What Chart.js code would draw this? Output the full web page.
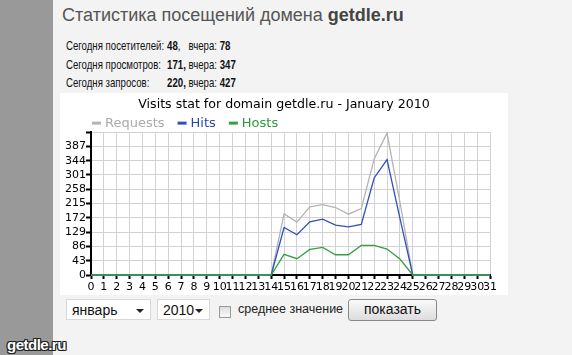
<!DOCTYPE html>
<html>
<head>
<meta charset="utf-8">
<script src="https://cdn.jsdelivr.net/npm/chart.js@4.4.1/dist/chart.umd.min.js"></script>
<style>
  body { margin: 0; width: 572px; height: 355px; overflow: hidden; background: #f3f3f3; position: relative;
         font-family: "Liberation Sans", Arial, sans-serif; }
  #side { position: absolute; left: 0; top: 0; width: 53px; height: 355px; background: #999; }
  h1 { position: absolute; left: 62px; top: 5px; margin: 0; font-size: 18px; font-weight: normal; color: #555; white-space: nowrap; }
  h1 b { color: #444; }
  .row { position: absolute; left: 66px; font-size: 12.2px; color: #111; white-space: nowrap;
         transform: scaleX(0.79); transform-origin: 0 0; }
  .row span { position: absolute; left: 128px; top: 0; }
  #box { position: absolute; left: 60px; top: 93px; width: 448px; height: 202px; background: #fff; }
  .sel { position: absolute; top: 299px; height: 21px; background: #fff; border: 1px solid #d8d8d8; box-sizing: border-box;
         font-size: 14px; line-height: 20px; padding-left: 5px; color: #111; }
  .sel i { position: absolute; right: 6px; top: 9px; border-left: 4px solid transparent; border-right: 4px solid transparent; border-top: 4px solid #222; }
  #chk { position: absolute; left: 219px; top: 306px; width: 12px; height: 12px; box-sizing: border-box; border: 1px solid #999;
         background: linear-gradient(#ddd, #fafafa); }
  #avg { position: absolute; left: 238px; top: 302px; font-size: 12.5px; color: #222; }
  #btn { position: absolute; left: 348px; top: 299px; width: 89px; height: 22px; box-sizing: border-box; border: 1px solid #888;
         border-radius: 3px; background: linear-gradient(#fafafa, #dcdcdc); font-size: 14px; text-align: center; line-height: 19px; color: #111; }
  #wm { position: absolute; left: 7px; top: 336px; font-size: 15px; font-weight: bold; color: #fff; letter-spacing: -0.5px;
        text-shadow: 1px 0 0 #222, -1px 0 0 #222, 0 1px 0 #222, 0 -1px 0 #222, 1px 1px 0 #222, -1px -1px 0 #222, 1px -1px 0 #222, -1px 1px 0 #222; }
</style>
</head>
<body>
<div id="side"></div>
<h1>Статистика посещений домена <b>getdle.ru</b></h1>
<div class="row" style="top:39px">Сегодня посетителей:<span><b>48</b>, &nbsp; вчера: <b>78</b></span></div>
<div class="row" style="top:57.5px">Сегодня просмотров:<span><b>171,</b> вчера: <b>347</b></span></div>
<div class="row" style="top:76px">Сегодня запросов:<span><b>220,</b> вчера: <b>427</b></span></div>
<div id="box"><canvas id="visits" width="448" height="202"></canvas></div>
<div class="sel" style="left:66px;width:85px">январь<i></i></div>
<div class="sel" style="left:157px;width:53px">2010<i></i></div>
<div id="chk"></div>
<div id="avg">среднее значение</div>
<div id="btn">показать</div>
<div id="wm">getdle.ru</div>

<script>
const chartTitle = 'Visits stat for domain getdle.ru - January 2010';

const days = ['0', '1', '2', '3', '4', '5', '6', '7', '8', '9', '10', '11', '12', '13', '14', '15',
  '16', '17', '18', '19', '20', '21', '22', '23', '24', '25', '26', '27', '28', '29', '30', '31'];

const requests = [0, 0, 0, 0, 0, 0, 0, 0, 0, 0, 0, 0, 0, 0, 0,
  184, 159, 205, 212, 203, 183, 200, 349, 427, 220,
  0, 0, 0, 0, 0, 0, 0];
const hits = [0, 0, 0, 0, 0, 0, 0, 0, 0, 0, 0, 0, 0, 0, 0,
  143, 121, 160, 168, 150, 145, 152, 292, 347, 171,
  0, 0, 0, 0, 0, 0, 0];
const hosts = [0, 0, 0, 0, 0, 0, 0, 0, 0, 0, 0, 0, 0, 0, 0,
  62, 49, 77, 83, 61, 61, 89, 89, 78, 48,
  0, 0, 0, 0, 0, 0, 0];

const yMax = 430;
const yStep = 43;

const font = 'DejaVu Sans';

// title sits centred on the whole white box, not on the padded area
const shiftTitle = {
  id: 'shiftTitle',
  afterLayout(chart) {
    if (chart.titleBlock) {
      chart.titleBlock.left += 9;
      chart.titleBlock.right += 9;
    }
  }
};

// legend drawn as "— Label" with text in the series colour
const lineLegend = {
  id: 'lineLegend',
  afterDraw(chart) {
    const c = chart.ctx;
    let x = chart.chartArea.left + 1;
    const y = chart.chartArea.top - 9;
    c.save();
    c.font = '13px "' + font + '"';
    c.textBaseline = 'middle';
    chart.data.datasets.forEach(ds => {
      c.fillStyle = ds.borderColor;
      c.fillRect(x, y - 1.5, 9, 3);
      x += 13;
      c.fillStyle = ds.textColor;
      c.fillText(ds.label, x, y + 1);
      x += c.measureText(ds.label).width + 13;
    });
    c.restore();
  }
};

const ctx = document.getElementById('visits');

new Chart(ctx, {
  type: 'line',
  data: {
    labels: days,
    datasets: [
      { label: 'Requests', data: requests, borderColor: '#b4b4b4', textColor: '#aaaaaa', order: 2 },
      { label: 'Hits', data: hits, borderColor: '#3050bb', textColor: '#2a48b0', order: 1 },
      { label: 'Hosts', data: hosts, borderColor: '#35a040', textColor: '#2c9a3a', order: 0 }
    ]
  },
  options: {
    responsive: false,
    animation: false,
    events: [],
    layout: { padding: { left: 0, right: 18, top: 0, bottom: 0 } },
    elements: {
      point: { radius: 0 },
      line: { borderWidth: 1.3, tension: 0 }
    },
    datasets: { line: { clip: false } },
    plugins: {
      legend: { display: false },
      tooltip: { enabled: false },
      title: {
        display: true,
        text: chartTitle,
        color: '#000',
        font: { family: font, size: 12.6, weight: 'normal' },
        padding: { top: 4, bottom: 20 }
      }
    },
    scales: {
      x: {
        grid: { color: '#d2d2d2', tickColor: '#000', tickLength: 4, tickWidth: 2 },
        border: { color: '#000', width: 2 },
        ticks: { autoSkip: false, maxRotation: 0, padding: 2, color: '#000', font: { family: font, size: 11 } },
        afterFit: s => { s.height = 20; }
      },
      y: {
        min: 0,
        max: yMax,
        grid: { color: '#d2d2d2', tickColor: '#000', tickLength: 5, tickWidth: 2 },
        border: { color: '#000', width: 2 },
        ticks: {
          stepSize: yStep,
          autoSkip: false,
          padding: 0,
          color: '#000',
          font: { family: font, size: 11 },
          callback: v => (v === yMax ? '' : v)
        },
        afterFit: s => { s.width = 31; }
      }
    }
  },
  plugins: [shiftTitle, lineLegend]
});
</script>
</body>
</html>
